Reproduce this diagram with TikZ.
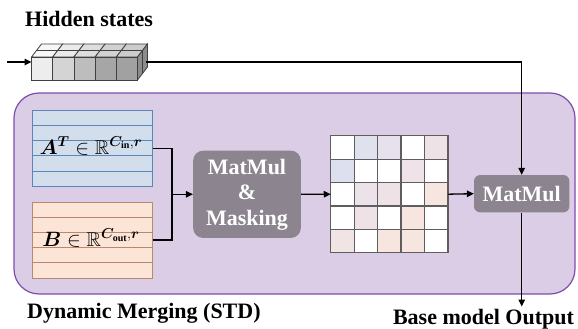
\documentclass[tikz,border=0pt]{standalone}
\usepackage{amsmath,amssymb,bm}
\usepackage{fontspec}
\setmainfont{Liberation Serif}[BoldFont={Liberation Serif Bold}]
\usetikzlibrary{arrows.meta}
\definecolor{dmfill}{HTML}{DACDE5}
\definecolor{dmborder}{HTML}{7C4DAE}
\definecolor{afill}{HTML}{D2DEEB}
\definecolor{aline}{HTML}{5B86B8}
\definecolor{bfill}{HTML}{FCE4D6}
\definecolor{bline}{HTML}{B58A70}
\definecolor{opfill}{HTML}{8C8590}
\definecolor{gridc}{HTML}{5E5E5E}
\definecolor{ma}{HTML}{DFE1EE}
\definecolor{mb}{HTML}{E6E1EC}
\definecolor{mc}{HTML}{EFE2E6}
\definecolor{md}{HTML}{DDE1EF}
\definecolor{me}{HTML}{EFE2E8}
\definecolor{mf}{HTML}{EBE2EA}
\definecolor{mg}{HTML}{F7E6E0}
\definecolor{mh}{HTML}{F0E4E4}
\begin{document}
\begin{tikzpicture}[x=1pt,y=-1pt,
  conn/.style={line width=1.3pt, draw=black},
  arr/.style={conn, -{Triangle[length=7pt,width=6.5pt]}},
  opbox/.style={fill=opfill, rounded corners=10pt, text=white, font=\fontsize{22}{25.5}\selectfont\bfseries, align=center, inner sep=0pt},
  lbl/.style={font=\fontsize{22}{26}\selectfont\bfseries, inner sep=0pt, anchor=base west},
  cubeln/.style={draw=black!75, line width=0.8pt}]
\useasboundingbox (0,0) rectangle (578,329);

\node[lbl] (hs) at (25,27) {Hidden states};

% dynamic merging container
\node[draw=dmborder, fill=dmfill, line width=1.2pt, rounded corners=25pt,
      minimum width=561pt, minimum height=201pt, inner sep=0pt] (dm) at (294.5,193.5) {};
\node[lbl] (dml) at (27,318) {Dynamic Merging (STD)};

% hidden-state cube strip
\coordinate (hin) at (7,62);
\coordinate (cubeL) at (31.5,62);
\coordinate (cubeR) at (146,62);
\foreach \i/\fc/\tc in {0/7/3,1/17/8,2/26/13,3/35/18,4/37/20}{
  \pgfmathsetmacro{\xa}{31.5+\i*21.2}
  \pgfmathsetmacro{\xb}{31.5+(\i+1)*21.2}
  \filldraw[cubeln, fill=black!\tc] (\xa,57) -- (\xb,57) -- ({\xb+10},44) -- ({\xa+10},44) -- cycle;
  \draw[cubeln] ({\xa+5},50.5) -- ({\xb+5},50.5);
  \filldraw[cubeln, fill=black!\fc] (\xa,57) rectangle (\xb,80);
}
\filldraw[cubeln, fill=black!45] (137.5,57) -- (147.5,44) -- (147.5,67) -- (137.5,80) -- cycle;
\draw[cubeln] (142.5,50.5) -- (142.5,73.5);
\draw[arr] (hin) -- (cubeL);

% A box
\node[fill=afill, draw=aline, line width=1pt, minimum width=120pt, minimum height=76.5pt, inner sep=0pt] (A) at (92,148.3) {};
\foreach \yy in {125.3,140.6,155.9,171.2}
  \draw[aline, line width=0.9pt] (32,\yy) -- (152,\yy);
\node[anchor=base, inner sep=0pt, font=\fontsize{20}{24}\selectfont] (At) at (91,154)
  {$\bm{A}^{\bm{T}} \in \mathbb{R}^{\bm{C}_{\mathbf{in}},\bm{r}}$};

% B box
\node[fill=bfill, draw=bline, line width=1pt, minimum width=120pt, minimum height=76pt, inner sep=0pt] (B) at (92,240) {};
\foreach \yy in {217.2,232.4,247.6,262.8}
  \draw[bline, line width=0.9pt] (32,\yy) -- (152,\yy);
\node[anchor=base, inner sep=0pt, font=\fontsize{20}{24}\selectfont] (Bt) at (91,246.5)
  {$\bm{B} \in \mathbb{R}^{\bm{C}_{\mathbf{out}},\bm{r}}$};

% MatMul & Masking
\node[opbox, minimum width=107.7pt, minimum height=87.3pt] (mm) at (247,194.3) {MatMul\\\&\\Masking};

% mask matrix
\node[minimum size=116.7pt, inner sep=0pt] (M) at (389.3,194.2) {};
\foreach \r/\row in {0/{white,ma,mb,white,mc},1/{md,white,white,me,white},2/{white,mf,mc,white,mg},3/{white,mc,white,mg,white},4/{mh,white,mg,mg,white}}{
  \foreach \col [count=\ci from 0] in \row {
    \fill[\col] ({331+\ci*23.33},{136+\r*23.33}) rectangle ++(23.33,23.33);
  }
}
\foreach \k in {1,...,4}{
  \draw[gridc, line width=1.2pt] ({331+\k*23.33},136) -- ({331+\k*23.33},252.7);
  \draw[gridc, line width=1.2pt] (331,{136+\k*23.33}) -- (447.7,{136+\k*23.33});
}
\draw[gridc, line width=1.3pt] (M.north west) rectangle (M.south east);

% final MatMul
\node[opbox, rounded corners=6pt, minimum width=95.3pt, minimum height=37.3pt] (mm2) at (521.7,193.7) {MatMul};
\coordinate (out) at (521.7,306.5);
\node[lbl, anchor=base] (bmo) at (483.5,324) {Base model Output};

% connectors
\coordinate (j) at (172,194.3);
\draw[conn] (A.east) -| (j);
\draw[conn] (B.east) -| (j);
\draw[arr] (j) -- (mm.west);
\draw[arr] (mm.east) -- (M.west);
\draw[arr] (M.east) -- (mm2.west);
\draw[arr] (cubeR) -| (mm2.north);
\draw[arr] (mm2.south) -- (out);
\end{tikzpicture}
\end{document}
